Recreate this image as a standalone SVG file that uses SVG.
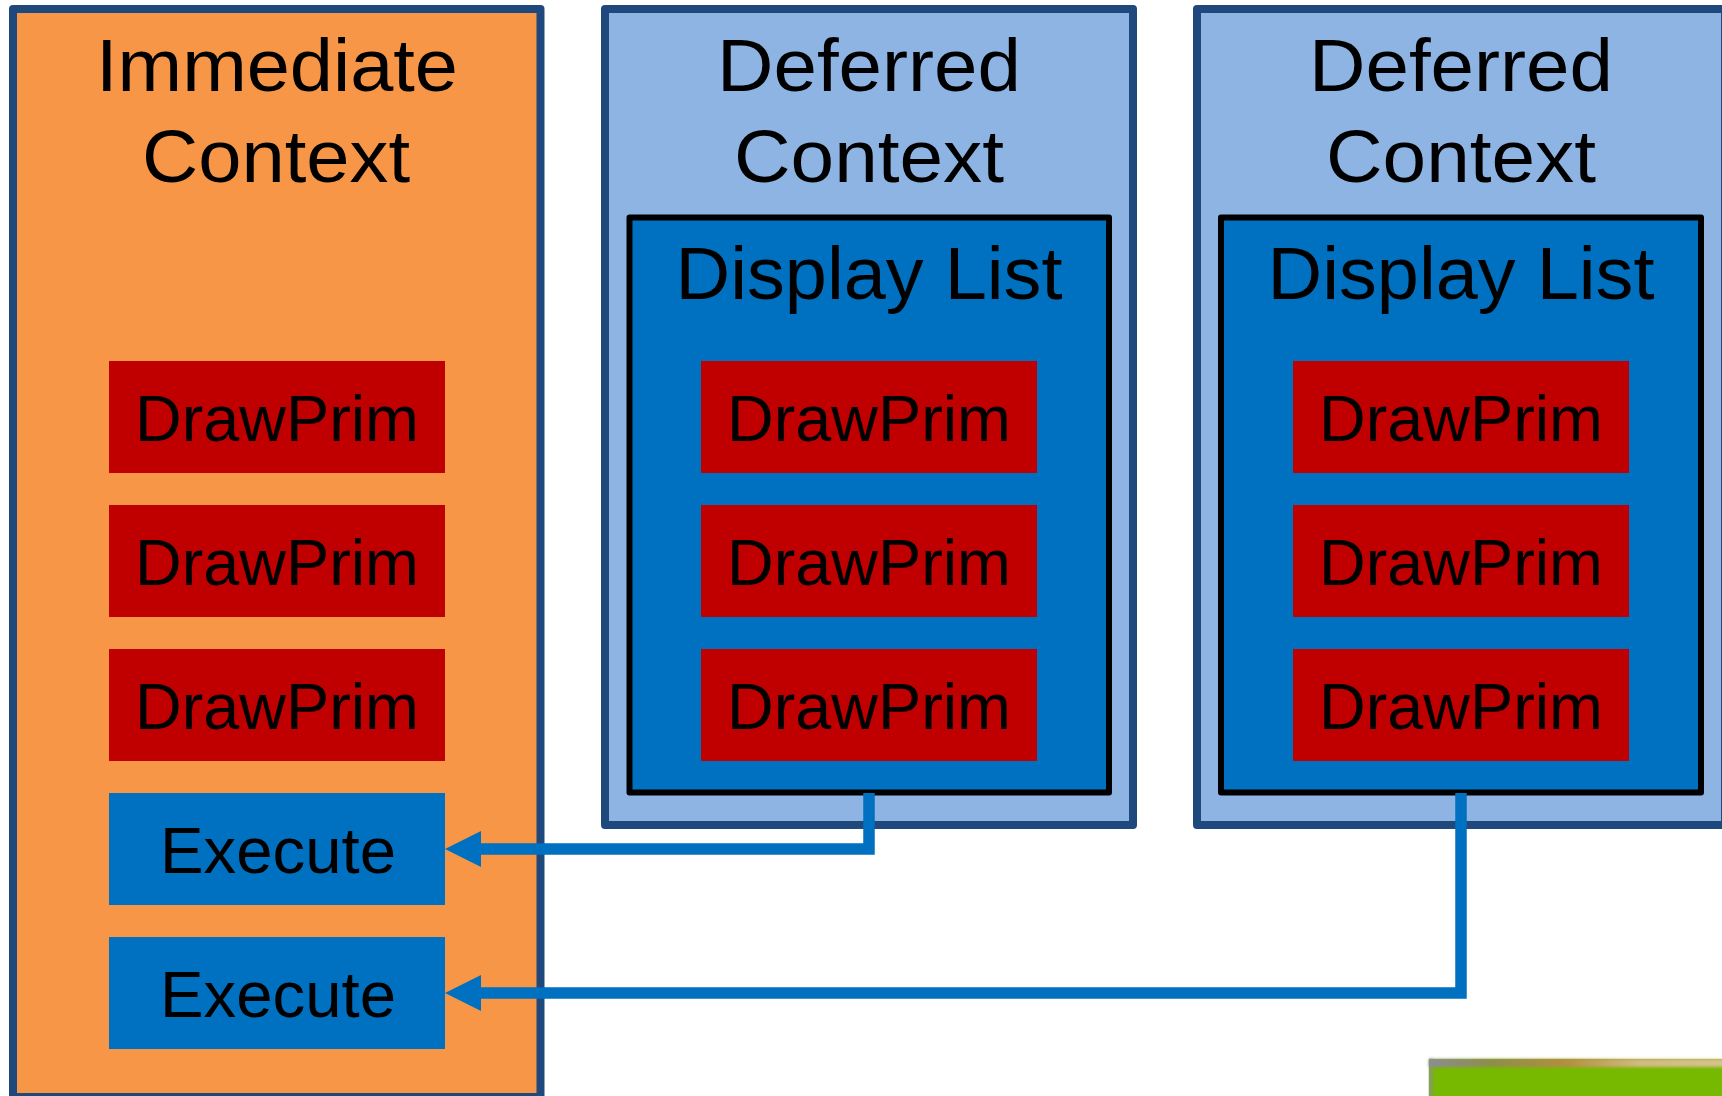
<svg xmlns="http://www.w3.org/2000/svg" width="1722" height="1096" viewBox="0 0 1722 1096">
  <style>
    .ctx-imm { fill: #F79646; stroke: #1F497D; stroke-width: 8; stroke-linejoin: round; }
    .ctx-def { fill: #8EB4E3; stroke: #1F497D; stroke-width: 8; stroke-linejoin: round; }
    .dlist { fill: #0070C0; stroke: #000000; stroke-width: 6; stroke-linejoin: round; }
    .prim { fill: #C00000; }
    .exec { fill: #0070C0; }
    .title { font-family: "Liberation Sans", Arial, sans-serif; font-size: 74px; fill: #000; text-anchor: middle; }
    .label { font-family: "Liberation Sans", Arial, sans-serif; font-size: 64px; fill: #000; text-anchor: middle; }
    .link { fill: none; stroke: #0070C0; stroke-width: 11.5; stroke-linejoin: miter; }
  </style>
  <defs>
    <marker id="arrowhead" markerUnits="userSpaceOnUse" viewBox="0 0 36 36" markerWidth="36" markerHeight="36" refX="6" refY="18" orient="auto">
      <path d="M0,0 L36,18 L0,36 Z" fill="#0070C0"/>
    </marker>
    <linearGradient id="greenTop" x1="0" y1="0" x2="1" y2="0">
      <stop offset="0" stop-color="#8C8A9A"/>
      <stop offset="0.2" stop-color="#8E8C50"/>
      <stop offset="0.45" stop-color="#B48C44"/>
      <stop offset="0.7" stop-color="#D3B984"/>
      <stop offset="1" stop-color="#D9C28E"/>
    </linearGradient>
    <filter id="soft" x="-5%" y="-50%" width="110%" height="200%">
      <feGaussianBlur stdDeviation="1.5"/>
    </filter>
  </defs>

  <!-- Immediate context column -->
  <g id="immediate-context">
    <rect class="ctx-imm" x="13" y="9" width="527.5" height="1088"/>
    <text class="title" x="277" y="91" textLength="362" lengthAdjust="spacingAndGlyphs">Immediate</text>
    <text class="title" x="276" y="182" textLength="268" lengthAdjust="spacingAndGlyphs">Context</text>
  </g>
  <g id="imm-drawprim-1"><rect class="prim" x="109" y="361" width="336" height="112"/><text class="label" x="277" y="441" textLength="284" lengthAdjust="spacingAndGlyphs">DrawPrim</text></g>
  <g id="imm-drawprim-2"><rect class="prim" x="109" y="505" width="336" height="112"/><text class="label" x="277" y="585" textLength="284" lengthAdjust="spacingAndGlyphs">DrawPrim</text></g>
  <g id="imm-drawprim-3"><rect class="prim" x="109" y="649" width="336" height="112"/><text class="label" x="277" y="729" textLength="284" lengthAdjust="spacingAndGlyphs">DrawPrim</text></g>
  <g id="imm-execute-1"><rect class="exec" x="109" y="793" width="336" height="112"/><text class="label" x="278" y="873" textLength="236" lengthAdjust="spacingAndGlyphs">Execute</text></g>
  <g id="imm-execute-2"><rect class="exec" x="109" y="937" width="336" height="112"/><text class="label" x="278" y="1017" textLength="236" lengthAdjust="spacingAndGlyphs">Execute</text></g>

  <!-- Deferred context A -->
  <g id="deferred-context-a">
    <rect class="ctx-def" x="605" y="9" width="528" height="816"/>
    <text class="title" x="869" y="91" textLength="304" lengthAdjust="spacingAndGlyphs">Deferred</text>
    <text class="title" x="869" y="182" textLength="270" lengthAdjust="spacingAndGlyphs">Context</text>
  </g>
  <g id="display-list-a">
    <rect class="dlist" x="629.5" y="217.5" width="479.5" height="575"/>
    <text class="title" x="869" y="299" textLength="387" lengthAdjust="spacingAndGlyphs">Display List</text>
  </g>
  <g id="dla-drawprim-1"><rect class="prim" x="701" y="361" width="336" height="112"/><text class="label" x="869" y="441" textLength="284" lengthAdjust="spacingAndGlyphs">DrawPrim</text></g>
  <g id="dla-drawprim-2"><rect class="prim" x="701" y="505" width="336" height="112"/><text class="label" x="869" y="585" textLength="284" lengthAdjust="spacingAndGlyphs">DrawPrim</text></g>
  <g id="dla-drawprim-3"><rect class="prim" x="701" y="649" width="336" height="112"/><text class="label" x="869" y="729" textLength="284" lengthAdjust="spacingAndGlyphs">DrawPrim</text></g>

  <!-- Deferred context B (runs off the right edge) -->
  <g id="deferred-context-b">
    <rect class="ctx-def" x="1197" y="9" width="528" height="816"/>
    <text class="title" x="1461" y="91" textLength="304" lengthAdjust="spacingAndGlyphs">Deferred</text>
    <text class="title" x="1461" y="182" textLength="270" lengthAdjust="spacingAndGlyphs">Context</text>
  </g>
  <g id="display-list-b">
    <rect class="dlist" x="1221" y="217.5" width="480" height="575"/>
    <text class="title" x="1461" y="299" textLength="387" lengthAdjust="spacingAndGlyphs">Display List</text>
  </g>
  <g id="dlb-drawprim-1"><rect class="prim" x="1293" y="361" width="336" height="112"/><text class="label" x="1461" y="441" textLength="284" lengthAdjust="spacingAndGlyphs">DrawPrim</text></g>
  <g id="dlb-drawprim-2"><rect class="prim" x="1293" y="505" width="336" height="112"/><text class="label" x="1461" y="585" textLength="284" lengthAdjust="spacingAndGlyphs">DrawPrim</text></g>
  <g id="dlb-drawprim-3"><rect class="prim" x="1293" y="649" width="336" height="112"/><text class="label" x="1461" y="729" textLength="284" lengthAdjust="spacingAndGlyphs">DrawPrim</text></g>

  <!-- Display lists feeding the Execute calls -->
  <g id="connectors">
    <path class="link" d="M869,793 V849 H475" marker-end="url(#arrowhead)"/>
    <path class="link" d="M1461,793 V993 H475" marker-end="url(#arrowhead)"/>
  </g>

  <!-- Green badge peeking in at the bottom right -->
  <g id="corner-badge">
    <rect x="1429" y="1059" width="300" height="40" fill="#76B900"/>
    <rect x="1429" y="1059" width="300" height="8" fill="url(#greenTop)" filter="url(#soft)"/>
    <rect x="1429" y="1059" width="4" height="40" fill="#8E8E92" opacity="0.7" filter="url(#soft)"/>
  </g>
</svg>
